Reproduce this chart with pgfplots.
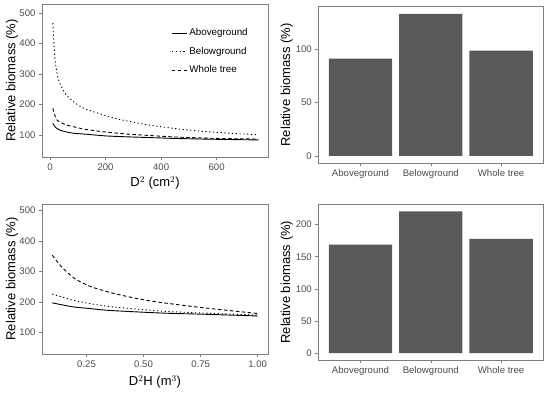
\documentclass[border=0pt]{standalone}
\usepackage{pgfplots}
\pgfplotsset{compat=1.18}
\usepackage{fontspec}
\setmainfont{Liberation Sans}
\definecolor{ticklab}{HTML}{4D4D4D}
\definecolor{frame}{HTML}{7F7F7F}
\definecolor{bargray}{HTML}{595959}
\pgfplotsset{
  myaxis/.style={
    scale only axis,
    anchor=south west,
    axis line style={frame, line width=0.5pt},
    tick style={frame, line width=0.5pt},
    tick align=outside,
    major tick length=3pt,
    xtick pos=bottom, ytick pos=left,
    /pgf/number format/assume math mode=true,
    tick label style={font=\fontsize{9.6}{11}\selectfont, text=ticklab},
    label style={font=\fontsize{13}{15}\selectfont},
    minor tick num=0,
    scaled ticks=false,
  },
  barax/.style={
    myaxis,
    xmin=0.4, xmax=3.6,
    xtick={1,2,3},
    xticklabels={Aboveground,Belowground,Whole tree},
    ybar, bar width=0.9, bar shift=0pt,
  }
}
\begin{document}
\begin{tikzpicture}
\path (0pt,0pt) rectangle (550pt,392pt);
% top-left
\begin{axis}[myaxis, at={(42pt,235pt)}, width=226pt, height=153pt,
  xmin=-29, xmax=785, ymin=28, ymax=530,
  xtick={0,200,400,600}, ytick={100,200,300,400,500},
  xlabel={D$^{2}$ (cm$^{2}$)}, ylabel={Relative biomass (\%)},
  xlabel style={at={(axis description cs:0.5,-0.17)}, anchor=center},
  ylabel style={at={(axis description cs:-0.133,0.5)}, anchor=center},
  legend style={draw=none, fill=none, at={(axis description cs:0.572,0.853)}, anchor=north west,
    font=\fontsize{9.8}{11}\selectfont, inner sep=0pt, row sep=6pt,
    /tikz/every even column/.append style={column sep=6.5pt}},
  legend cell align=left,
  legend image code/.code={\draw[#1] (0pt,0pt) -- (15pt,0pt);},
]
\addplot[black, line width=0.9pt, smooth, tension=0.4] coordinates {(10,138) (20,125) (36,116) (60,110) (84,106) (126,103) (204,97) (300,93.5) (384,91) (444,89) (600,86) (750,84)};
\addlegendentry{Aboveground}
\addplot[black, line width=0.9pt, dash pattern=on 1.2pt off 2.6pt, smooth, tension=0.4] coordinates {(10,467) (18,347) (30,283) (54,237) (84,210) (126,186) (234,155) (342,135) (444,122) (551,112) (650,106) (750,101)};
\addlegendentry{Belowground}
\addplot[black, line width=0.9pt, dash pattern=on 3.5pt off 2.5pt, smooth, tension=0.4] coordinates {(10,188) (24,150) (60,133) (126,119) (200,110) (282,103) (444,94) (600,89) (750,87)};
\addlegendentry{Whole tree}
\end{axis}
% bottom-left
\begin{axis}[myaxis, at={(42pt,38pt)}, width=226pt, height=150pt,
  xmin=0.055, xmax=1.045, ymin=29, ymax=522,
  xtick={0.25,0.5,0.75,1}, xticklabels={0.25,0.50,0.75,1.00}, ytick={100,200,300,400,500},
  xlabel={D$^{2}$H (m$^{3}$)}, ylabel={Relative biomass (\%)},
  xlabel style={at={(axis description cs:0.5,-0.185)}, anchor=center},
  ylabel style={at={(axis description cs:-0.133,0.5)}, anchor=center},
]
\addplot[black, line width=0.9pt, smooth, tension=0.4] coordinates {(0.1,197) (0.19,184) (0.27,178) (0.335,173) (0.48,167) (0.6,163) (0.75,160) (1.0,154)};
\addplot[black, line width=0.9pt, dash pattern=on 1.2pt off 2.6pt, smooth, tension=0.4] coordinates {(0.1,226) (0.19,206) (0.27,194) (0.35,185) (0.48,176) (0.6,169) (0.75,164) (1.0,157)};
\addplot[black, line width=0.9pt, dash pattern=on 3.5pt off 2.5pt, smooth, tension=0.4] coordinates {(0.1,354) (0.14,316) (0.2,276) (0.27,250) (0.365,229) (0.46,213) (0.56,200) (0.75,182) (1.0,162)};
\end{axis}
% top-right
\begin{axis}[barax, at={(318.3pt,228.7pt)}, width=225pt, height=156.6pt,
  ymin=-7, ymax=140, ytick={0,50,100},
  ylabel={Relative biomass (\%)},
  ylabel style={at={(axis description cs:-0.14,0.5)}, anchor=center},
]
\addplot[fill=bargray, draw=none] coordinates {(1,91.2) (2,133.2) (3,98.7)};
\end{axis}
% bottom-right
\begin{axis}[barax, at={(318.3pt,32pt)}, width=225pt, height=155.7pt,
  ymin=-10.5, ymax=231.5, ytick={0,50,100,150,200},
  ylabel={Relative biomass (\%)},
  ylabel style={at={(axis description cs:-0.14,0.5)}, anchor=center},
]
\addplot[fill=bargray, draw=none] coordinates {(1,169) (2,220.6) (3,177.7)};
\end{axis}
\end{tikzpicture}
\end{document}
